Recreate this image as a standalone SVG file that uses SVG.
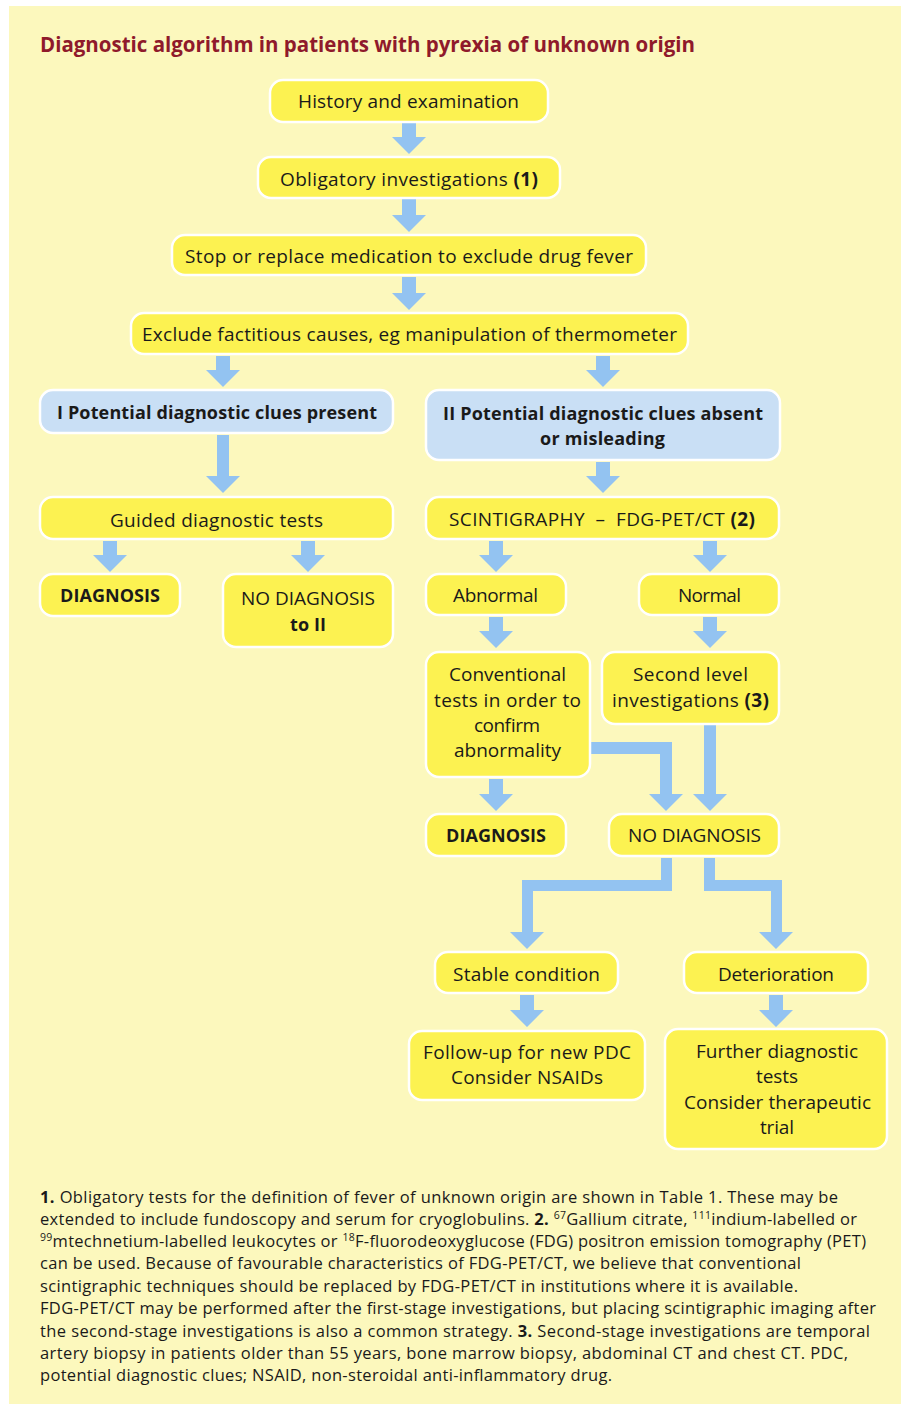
<svg xmlns="http://www.w3.org/2000/svg" width="901" height="1404" viewBox="0 0 901 1404">
<style>
.bg{fill:#fcf8bd}
.box{fill:#fcf251;stroke:#ffffff;stroke-width:2.5}
.blue{fill:#c9dff5;stroke:#ffffff;stroke-width:2.5}
.arr{fill:#93c3f1}
text{font-family:"Open Sans","Noto Sans",sans-serif;fill:#1a1a1a}
.t{font-size:19px;text-anchor:middle}
.b{font-weight:bold}
.tb{font-size:18px;font-weight:bold;text-anchor:middle}
.title{font-size:21px;font-weight:bold;fill:#8f1a2b}
.fn{font-size:16.5px}
.sup{font-size:10.5px}
</style>
<rect x="0" y="0" width="901" height="1404" fill="#ffffff"/>
<rect class="bg" x="9" y="6" width="892" height="1398"/>
<text class="title" x="40" y="52" textLength="655" lengthAdjust="spacingAndGlyphs">Diagnostic algorithm in patients with pyrexia of unknown origin</text>

<g id="connectors">
<polygon class="arr" points="402,122 416,122 416,137 426,137 409,154 392,137 402,137"/>
<polygon class="arr" points="402,199 416,199 416,215 426,215 409,232 392,215 402,215"/>
<polygon class="arr" points="402,277 416,277 416,293 426,293 409,310 392,293 402,293"/>
<polygon class="arr" points="216,356 230,356 230,370 240,370 223,387 206,370 216,370"/>
<polygon class="arr" points="596,356 610,356 610,370 620,370 603,387 586,370 596,370"/>
<polygon class="arr" points="217,435 229,435 229,476 240,476 223,493 206,476 217,476"/>
<polygon class="arr" points="596,462 610,462 610,476 620,476 603,493 586,476 596,476"/>
<polygon class="arr" points="103,541 117,541 117,555 127,555 110,572 93,555 103,555"/>
<polygon class="arr" points="301,541 315,541 315,555 325,555 308,572 291,555 301,555"/>
<polygon class="arr" points="489,541 503,541 503,555 513,555 496,572 479,555 489,555"/>
<polygon class="arr" points="703,541 717,541 717,555 727,555 710,572 693,555 703,555"/>
<polygon class="arr" points="489,617 503,617 503,631 513,631 496,648 479,631 489,631"/>
<polygon class="arr" points="703,617 717,617 717,631 727,631 710,648 693,631 703,631"/>
<polygon class="arr" points="489,779 503,779 503,794 513,794 496,811 479,794 489,794"/>
<polygon class="arr" points="591,742 672,742 672,794 683,794 666,811 649,794 660,794 660,754 591,754"/>
<polygon class="arr" points="704,725 716,725 716,794 727,794 710,811 693,794 704,794"/>
<polygon class="arr" points="661,858 672,858 672,891 533,891 533,932 544,932 527,949 510,932 522,932 522,880 661,880"/>
<polygon class="arr" points="704,858 715,858 715,880 782,880 782,932 793,932 776,949 759,932 771,932 771,891 704,891"/>
<polygon class="arr" points="520,995 534,995 534,1010 544,1010 527,1027 510,1010 520,1010"/>
<polygon class="arr" points="769,995 783,995 783,1010 793,1010 776,1027 759,1010 769,1010"/>
</g>

<g id="n1"><rect class="box" x="270" y="80" width="278" height="42" rx="13"/>
<text class="t" x="408.5" y="108" textLength="221">History and examination</text></g>
<g id="n2"><rect class="box" x="258" y="157" width="302" height="41" rx="13"/>
<text class="t" x="409" y="186" textLength="258">Obligatory investigations <tspan class="b">(1)</tspan></text></g>
<g id="n3"><rect class="box" x="172" y="235" width="474" height="40" rx="13"/>
<text class="t" x="409" y="263" textLength="448">Stop or replace medication to exclude drug fever</text></g>
<g id="n4"><rect class="box" x="131" y="313" width="557" height="41" rx="13"/>
<text class="t" x="409.5" y="341" textLength="535">Exclude factitious causes, eg manipulation of thermometer</text></g>
<g id="n5"><rect class="blue" x="40" y="390" width="353" height="43" rx="13"/>
<text class="tb" x="217" y="419" textLength="320">I Potential diagnostic clues present</text></g>
<g id="n6"><rect class="blue" x="426" y="390" width="354" height="70" rx="13"/>
<text class="tb" x="603" y="420" textLength="320">II Potential diagnostic clues absent</text>
<text class="tb" x="602.5" y="445" textLength="125">or misleading</text></g>
<g id="n7"><rect class="box" x="40" y="497" width="353" height="42" rx="13"/>
<text class="t" x="216.5" y="527" textLength="213">Guided diagnostic tests</text></g>
<g id="n8"><rect class="box" x="426" y="497" width="353" height="42" rx="13"/>
<text class="t" x="602" y="526" textLength="306">SCINTIGRAPHY&#160; –&#160; FDG-PET/CT <tspan class="b">(2)</tspan></text></g>
<g id="n9"><rect class="box" x="40" y="574" width="140" height="42" rx="13"/>
<text class="tb" x="110" y="602" textLength="100">DIAGNOSIS</text></g>
<g id="n10"><rect class="box" x="223" y="574" width="170" height="73" rx="13"/>
<text class="t" x="308" y="605" textLength="134">NO DIAGNOSIS</text>
<text class="tb" x="308" y="631" textLength="36">to II</text></g>
<g id="n11"><rect class="box" x="426" y="574" width="140" height="41" rx="13"/>
<text class="t" x="495.5" y="602" textLength="85">Abnormal</text></g>
<g id="n12"><rect class="box" x="639" y="574" width="140" height="41" rx="13"/>
<text class="t" x="709.5" y="602" textLength="63">Normal</text></g>
<g id="n13"><rect class="box" x="426" y="652" width="164" height="125" rx="13"/>
<text class="t" x="507.5" y="681" textLength="117">Conventional</text>
<text class="t" x="507.5" y="707" textLength="147">tests in order to</text>
<text class="t" x="507" y="732" textLength="66">confirm</text>
<text class="t" x="507.5" y="757" textLength="107">abnormality</text></g>
<g id="n14"><rect class="box" x="602" y="652" width="177" height="72" rx="13"/>
<text class="t" x="690.5" y="681" textLength="115">Second level</text>
<text class="t" x="690.5" y="707" textLength="157">investigations <tspan class="b">(3)</tspan></text></g>
<g id="n15"><rect class="box" x="426" y="814" width="140" height="42" rx="13"/>
<text class="tb" x="496" y="842" textLength="100">DIAGNOSIS</text></g>
<g id="n16"><rect class="box" x="609" y="814" width="170" height="42" rx="13"/>
<text class="t" x="694.5" y="842" textLength="133">NO DIAGNOSIS</text></g>
<g id="n17"><rect class="box" x="435" y="952" width="183" height="41" rx="13"/>
<text class="t" x="526.5" y="981" textLength="147">Stable condition</text></g>
<g id="n18"><rect class="box" x="684" y="952" width="184" height="41" rx="13"/>
<text class="t" x="776" y="981" textLength="116">Deterioration</text></g>
<g id="n19"><rect class="box" x="409" y="1031" width="236" height="69" rx="13"/>
<text class="t" x="527" y="1059" textLength="208">Follow-up for new PDC</text>
<text class="t" x="527" y="1084" textLength="152">Consider NSAIDs</text></g>
<g id="n20"><rect class="box" x="665" y="1029" width="222" height="120" rx="13"/>
<text class="t" x="777" y="1058" textLength="162">Further diagnostic</text>
<text class="t" x="777" y="1083" textLength="42">tests</text>
<text class="t" x="777.5" y="1109" textLength="187">Consider therapeutic</text>
<text class="t" x="777" y="1134" textLength="34">trial</text></g>

<g id="footnotes">
<text class="fn" x="40" y="1203" textLength="798"><tspan class="b">1.</tspan> Obligatory tests for the definition of fever of unknown origin are shown in Table 1. These may be</text>
<text class="fn" x="40" y="1225" textLength="817">extended to include fundoscopy and serum for cryoglobulins. <tspan class="b">2.</tspan> <tspan class="sup" dy="-6">67</tspan><tspan dy="6">Gallium citrate, </tspan><tspan class="sup" dy="-6">111</tspan><tspan dy="6">indium-labelled or</tspan></text>
<text class="fn" x="40" y="1247" textLength="826"><tspan class="sup" dy="-6">99</tspan><tspan dy="6">mtechnetium-labelled leukocytes or </tspan><tspan class="sup" dy="-6">18</tspan><tspan dy="6">F-fluorodeoxyglucose (FDG) positron emission tomography (PET)</tspan></text>
<text class="fn" x="40" y="1269" textLength="761">can be used. Because of favourable characteristics of FDG-PET/CT, we believe that conventional</text>
<text class="fn" x="40" y="1292" textLength="758">scintigraphic techniques should be replaced by FDG-PET/CT in institutions where it is available.</text>
<text class="fn" x="40" y="1314" textLength="836">FDG-PET/CT may be performed after the first-stage investigations, but placing scintigraphic imaging after</text>
<text class="fn" x="40" y="1337" textLength="830">the second-stage investigations is also a common strategy. <tspan class="b">3.</tspan> Second-stage investigations are temporal</text>
<text class="fn" x="40" y="1359" textLength="808">artery biopsy in patients older than 55 years, bone marrow biopsy, abdominal CT and chest CT. PDC,</text>
<text class="fn" x="40" y="1381" textLength="572">potential diagnostic clues; NSAID, non-steroidal anti-inflammatory drug.</text>
</g>
</svg>
